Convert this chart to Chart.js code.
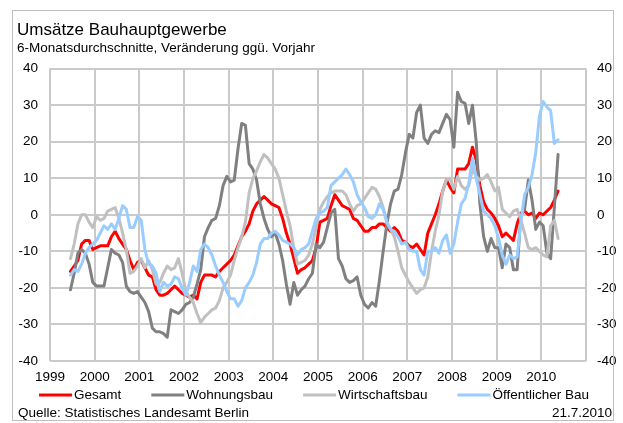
<!DOCTYPE html>
<html lang="de">
<head>
<meta charset="utf-8">
<title>Umsätze Bauhauptgewerbe</title>
<script src="https://cdn.jsdelivr.net/npm/chart.js@4.4.1/dist/chart.umd.min.js"></script>
<style>
  html, body { margin: 0; padding: 0; background: #fff; }
  #wrap { width: 623px; height: 423px; }
</style>
</head>
<body>
<div id="wrap"><canvas id="myChart" width="623" height="423"></canvas></div>
<script>
// Monatswerte Juni 1999 bis Mai 2010 (6-Monatsdurchschnitte, Veränderung ggü. Vorjahr in %)
const startYear = 1999;
const startMonth = 6;

const yearLabels = ['1999', '2000', '2001', '2002', '2003', '2004', '2005', '2006', '2007', '2008', '2009', '2010'];
const yTicks = [-40, -30, -20, -10, 0, 10, 20, 30, 40];

const gesamt = [
  -15.5, -14, -12.5, -8, -7, -7, -9.5,
  -9, -8.5, -8.5, -8.5, -6, -4.5, -6.5, -8, -9.5, -12.5, -15, -13,
  -12.5, -14.5, -16.5, -17, -20.5, -22, -22, -21.5, -20.5, -19.5, -20.5, -21.5,
  -22, -22.5, -22, -23, -18.5, -16.5, -16.5, -16.5, -17, -15.5, -14.5, -13.5,
  -12.5, -11, -8.5, -6, -4.5, -2.5, 1, 3, 4, 5, 4, 3,
  2.5, 2, -1, -5, -8, -12, -16, -15, -14.5, -13.5, -12.5, -9,
  -2, -1.5, -1, 2.5, 5.5, 4, 2.5, 2, 1.5, -1, -1.5, -3,
  -4.5, -4.5, -3.5, -3.5, -2.5, -2.5, -3.5, -4.5, -3.5, -4.5, -7, -7.5,
  -8.5, -9, -8, -9.5, -11, -5, -2.5, 0, 3, 6.5, 9.5, 7.5,
  6, 12.5, 12.5, 12.5, 14, 18.5, 15, 8, 3.5, 1.5, 0.5, -1,
  -3, -6, -5, -6, -7, -2.5, 0.5, 1, 0, 0.5, -1, 0.5,
  0, 1, 2, 4, 6.5
];

const wohnungsbau = [
  -20.5, -16, -10.5, -9.5, -10.5, -13.5, -18.5,
  -19.5, -19.5, -19.5, -14.5, -9.5, -10.5, -11, -13, -19.5, -21, -21.5, -21,
  -22.5, -24, -26.5, -31, -32, -32, -32.5, -33.5, -26, -26.5, -27, -26,
  -24.5, -24, -22.5, -19, -15, -6, -3.5, -1.5, -1, 2.5, 8, 10.5,
  9, 9.5, 18, 25, 24.5, 14, 12.5, 9.5, 3, -1, -4, -6,
  -5, -8, -12.5, -19, -24.5, -18.5, -22, -20.5, -19.5, -17.5, -16, -8,
  -9, -7.5, -3.5, 0.5, 1.5, -12, -14, -17.5, -18.5, -18, -17, -22,
  -24.5, -25.5, -24, -25, -18, -10, -2.5, 3, 6.5, 7, 11, 17,
  22, 21, 28, 30, 21, 19.5, 22, 23, 22.5, 25, 27.5, 26,
  18.5, 33.5, 31, 30.5, 25, 30, 20, 3, -6, -10, -6.5, -9,
  -9, -14.5, -8, -9, -15, -15, 0, 1.5, 9.5, 4, -4, -2,
  -3, -10.5, -12, 2, 16.5
];

const wirtschaftsbau = [
  -12, -8, -2.5, 0, 0, -2, -3.5,
  -0.5, -1.5, -1, 1, 1.5, 2, -1, -5, -9.5, -16, -15.5, -14,
  -12, -14.5, -12.5, -15, -19, -18.5, -16, -14, -15, -14.5, -12, -16,
  -21, -22.5, -24, -27, -29.5, -28, -27, -26, -25.5, -23.5, -20, -18.5,
  -16.5, -12.5, -9, -6, -2, 6, 10, 12, 14.5, 16.5, 15.5, 14,
  12.5, 10, 5.5, 1, -3, -9, -13.5, -13, -12.5, -11, -8, -3.5,
  1.5, 3.5, 5, 6, 6.5, 6.5, 6.5, 5.5, 3, 1, 2.5, 3,
  4.5, 6, 7.5, 7, 5, 2, -2, -4, -6, -10, -14.5, -16.5,
  -18.5, -20, -21.5, -20.5, -20, -17, -10, -4.5, 0, 6.5, 9.5, 10,
  7, 10.5, 8, 7, 8, 12.5, 10.5, 9.5, 10, 11, 9, 6.5,
  7.5, 1.5, 0.5, -0.5, 1, 1.5, -1.5, -5, -9, -9.5, -9, -10,
  -11, -11.5, -3, -1.5, -6.5
];

const oeffentlicherBau = [
  -16.5, -15, -15.5, -13.5, -10.5, -9, -8,
  -7, -5, -3, -4, -2.5, -4, -1, 2.5, 1.5, -3.5, -3.5, -0.5,
  -1.5, -9.5, -13.5, -14, -16, -21, -18.5, -19.5, -19, -17, -17.5, -20,
  -22, -18.5, -14, -15.5, -9.5, -8, -9, -11, -14, -16.5, -18.5, -21,
  -23, -23, -25, -23.5, -20, -18.5, -16.5, -13, -8, -6.5, -6.5, -5,
  -4.5, -5.5, -7, -7.5, -8, -9, -11, -9.5, -9, -8, -4.5, -1,
  0.5, 1, 2, 8, 9, 10, 11, 12.5, 11, 9, 5.5, 3.5,
  2, -0.5, -1, 0, 3, 1.5, -2, -4, -4.5, -6, -8, -7.5,
  -9.5, -10, -10, -15, -16.5, -10, -10, -9, -10.5, -7, -5.5, -10.5,
  -8, -2, 3, 4.5, 8.5, 15.5, 10, 5.5, 1, 0, -1, -3,
  -6.5, -11, -13.5, -11, -12, -11.5, -2, 5.5, 7.5, 11, 17, 27,
  31, 29.5, 28.5, 19.5, 20.5
];

const sourceText = 'Quelle: Statistisches Landesamt Berlin';
const dateText = '21.7.2010';

const fontFamily = "'Liberation Sans', Arial, sans-serif";
const gridColor = '#cacaca';

// month i of the series sits in the middle of its month on the year axis
function toPoints(values) {
  return values.map((v, i) => ({ x: startYear + (startMonth - 1 + i + 0.5) / 12, y: v }));
}

function series(label, values, color, order) {
  return {
    label: label,
    data: toPoints(values),
    borderColor: color,
    backgroundColor: color,
    borderWidth: 3,
    pointRadius: 0,
    tension: 0,
    borderJoinStyle: 'round',
    borderCapStyle: 'round',
    order: order
  };
}

// legend row, source line and outer frame
const extras = {
  id: 'extras',
  afterDraw(chart) {
    const ctx = chart.ctx;
    ctx.save();
    ctx.font = '13.5px ' + fontFamily;
    ctx.textBaseline = 'middle';
    ctx.fillStyle = '#000';

    const sets = chart.data.datasets;
    const lineLen = 33, gap = 2, spacing = 30, legendY = 395;
    const widths = sets.map(ds => lineLen + gap + ctx.measureText(ds.label).width);
    const total = widths.reduce((a, b) => a + b, 0) + spacing * (sets.length - 1);
    let x = 314 - total / 2;
    sets.forEach((ds, i) => {
      ctx.strokeStyle = ds.borderColor;
      ctx.lineWidth = 3;
      ctx.beginPath();
      ctx.moveTo(x, legendY);
      ctx.lineTo(x + lineLen, legendY);
      ctx.stroke();
      ctx.textAlign = 'left';
      ctx.fillText(ds.label, x + lineLen + gap, legendY);
      x += widths[i] + spacing;
    });

    ctx.textAlign = 'left';
    ctx.fillText(sourceText, 18, 413);
    ctx.textAlign = 'right';
    ctx.fillText(dateText, 612, 413);

    ctx.strokeStyle = '#bfbfbf';
    ctx.lineWidth = 1;
    ctx.strokeRect(12.5, 10.5, 601, 410);
    ctx.restore();
  }
};

Chart.defaults.font.family = fontFamily;
Chart.defaults.font.size = 13.5;
Chart.defaults.color = '#000';

const ctx = document.getElementById('myChart').getContext('2d');
const myChart = new Chart(ctx, {
  type: 'line',
  data: {
    datasets: [
      series('Gesamt', gesamt, '#ff0000', 3),
      series('Wohnungsbau', wohnungsbau, '#808080', 2),
      series('Wirtschaftsbau', wirtschaftsbau, '#c0c0c0', 1),
      series('Öffentlicher Bau', oeffentlicherBau, '#99ccff', 0)
    ]
  },
  options: {
    responsive: false,
    animation: false,
    devicePixelRatio: 1,
    events: [],
    layout: { padding: { top: 10, left: 17, right: 0, bottom: 38 } },
    plugins: {
      legend: { display: false },
      tooltip: { enabled: false },
      title: {
        display: true,
        text: 'Umsätze Bauhauptgewerbe',
        align: 'start',
        font: { size: 17, weight: 'normal' },
        padding: { top: 10, bottom: 0 }
      },
      subtitle: {
        display: true,
        text: '6-Monatsdurchschnitte, Veränderung ggü. Vorjahr',
        align: 'start',
        font: { size: 13.5 },
        padding: { top: 0, bottom: 12 }
      }
    },
    scales: {
      x: {
        type: 'linear',
        min: 1999,
        max: 2011,
        afterBuildTicks: scale => {
          scale.ticks = [];
          for (let y = 1999; y <= 2011; y++) scale.ticks.push({ value: y });
        },
        afterFit: scale => { scale.height = 24; },
        ticks: {
          autoSkip: false,
          maxRotation: 0,
          padding: 8,
          callback: value => yearLabels[value - 1999] || ''
        },
        grid: { color: gridColor, lineWidth: 2, drawTicks: false },
        border: { display: false }
      },
      y: {
        position: 'left',
        min: -40,
        max: 40,
        afterBuildTicks: scale => { scale.ticks = yTicks.map(v => ({ value: v })); },
        afterFit: scale => { scale.width = 33; },
        ticks: { padding: 12 },
        grid: { color: gridColor, lineWidth: 2, drawTicks: false },
        border: { display: false }
      },
      y2: {
        position: 'right',
        min: -40,
        max: 40,
        afterBuildTicks: scale => { scale.ticks = yTicks.map(v => ({ value: v })); },
        afterFit: scale => { scale.width = 37; },
        ticks: { padding: 11 },
        grid: { display: false, drawTicks: false },
        border: { display: false }
      }
    }
  },
  plugins: [extras]
});
</script>
</body>
</html>
